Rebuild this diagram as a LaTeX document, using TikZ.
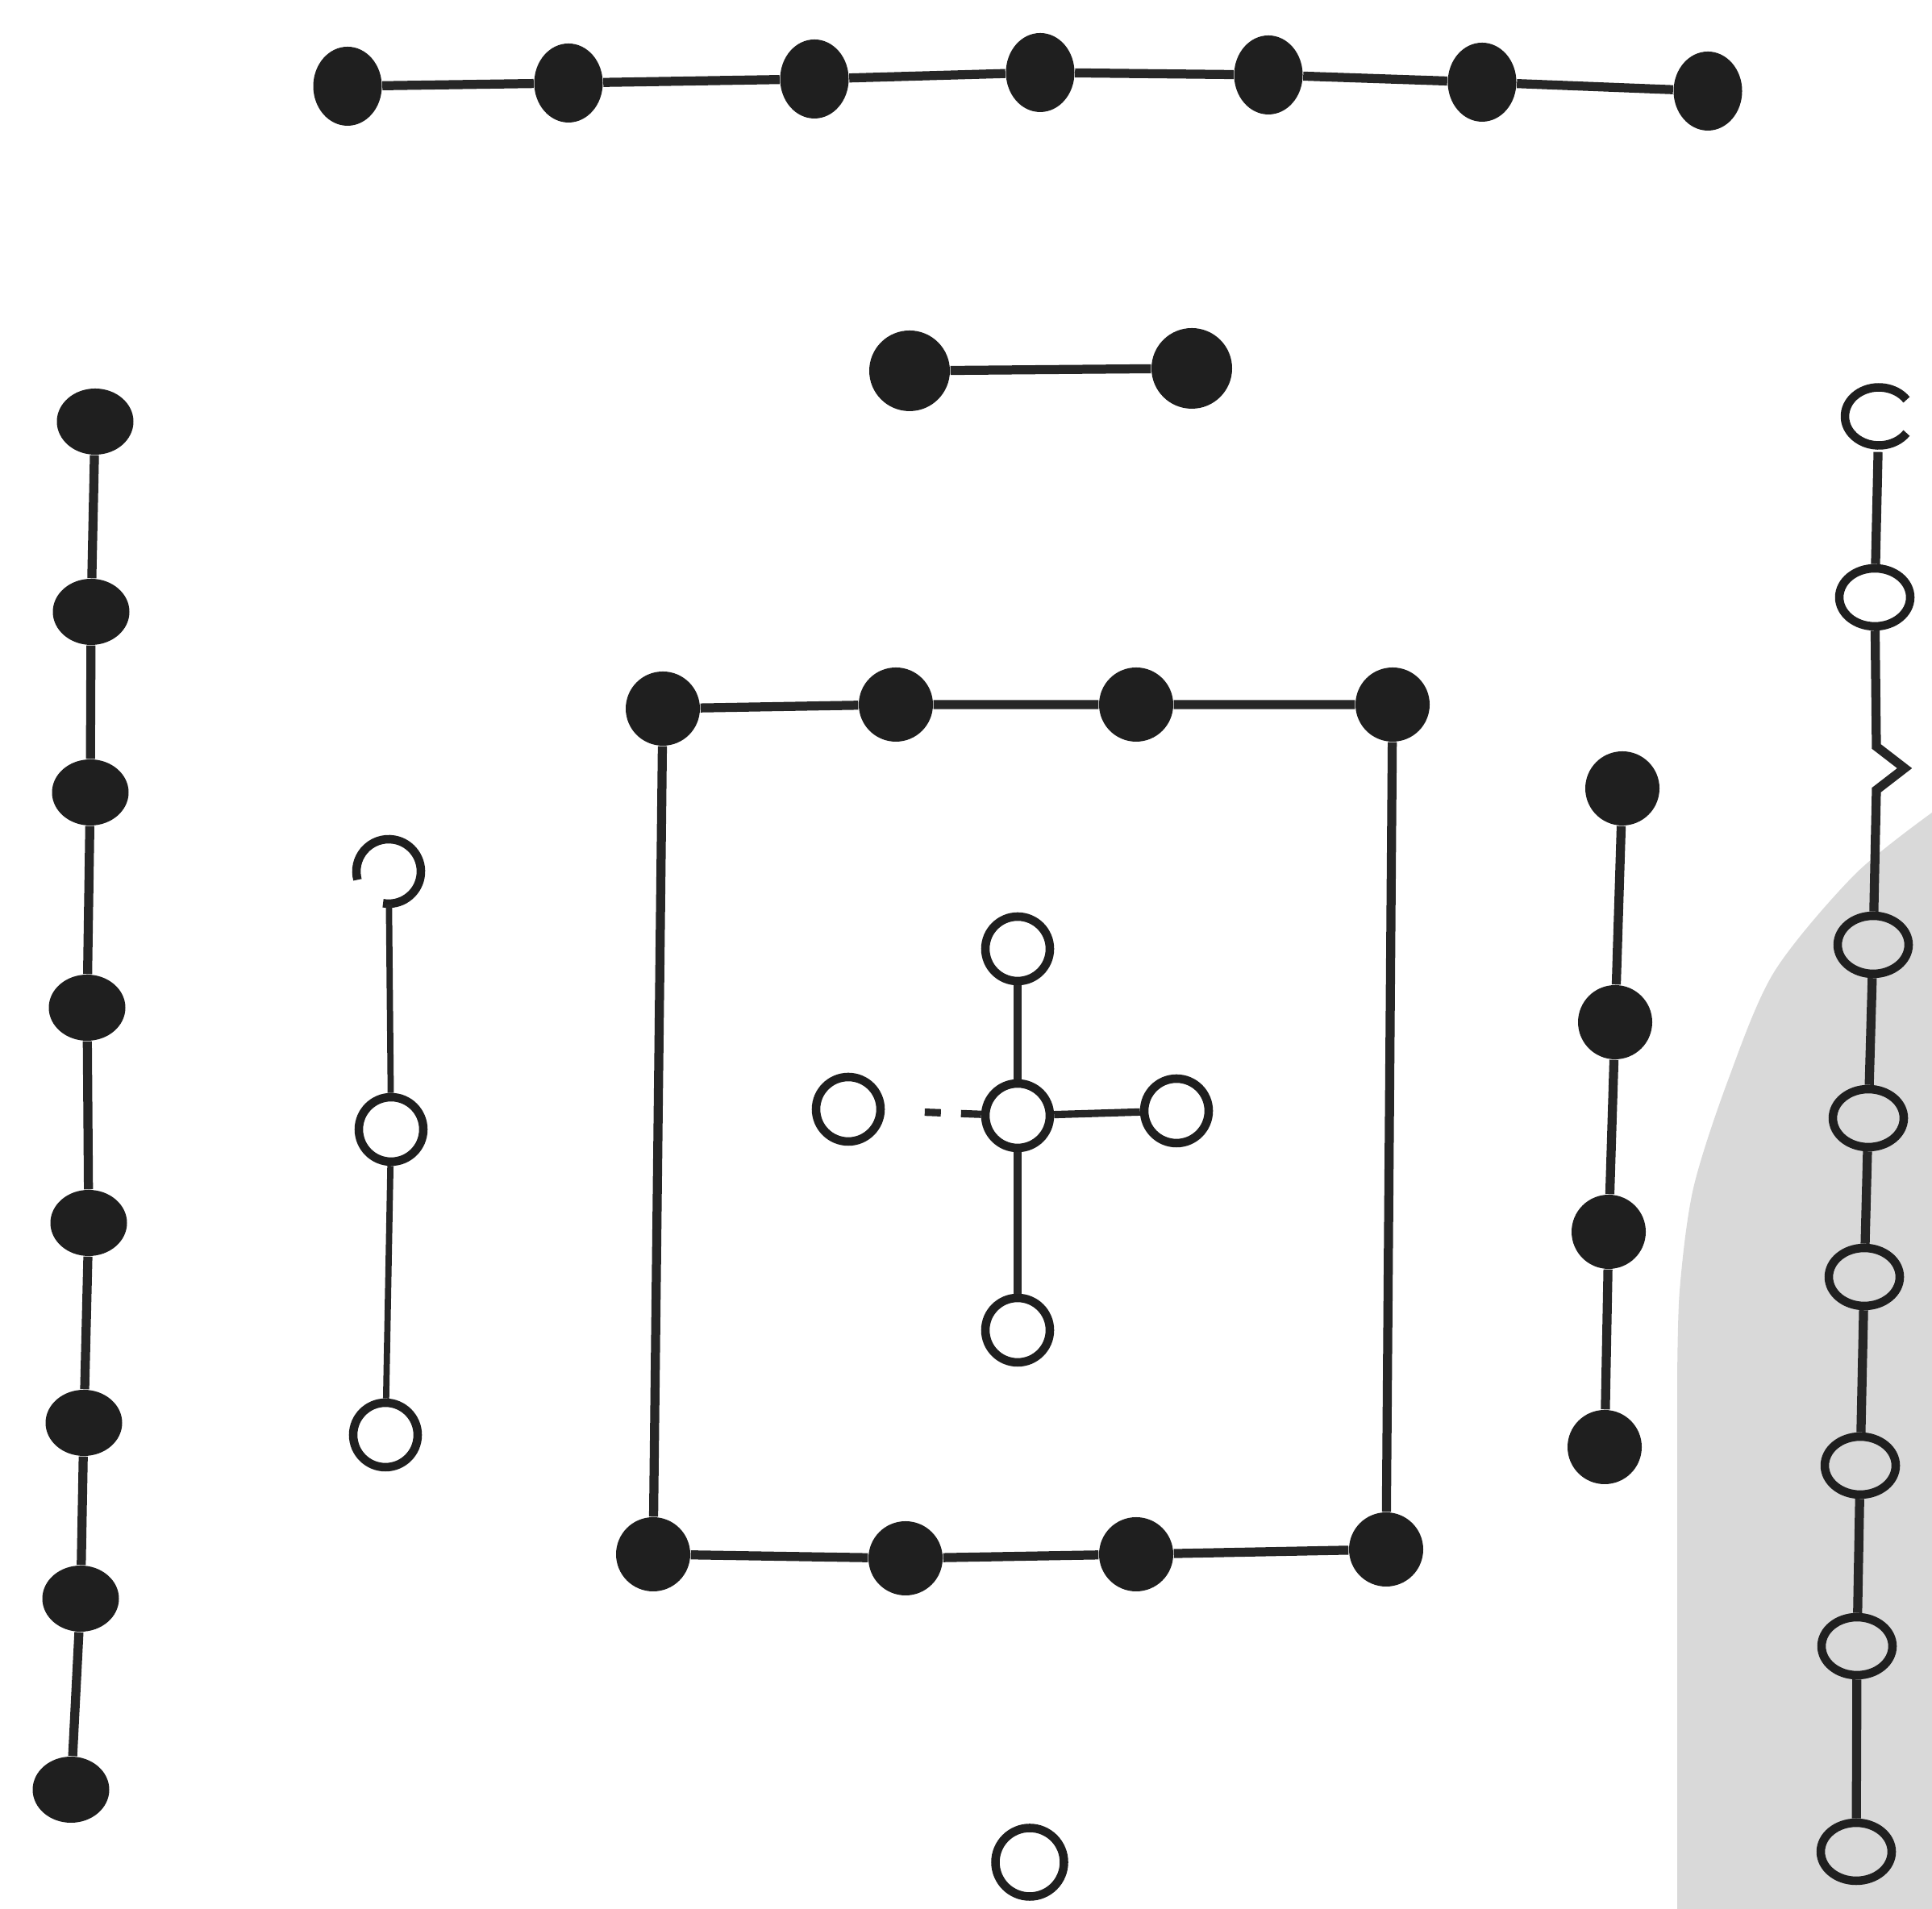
\documentclass[tikz,border=0pt]{standalone}
\usepackage{tikz}
\usetikzlibrary{positioning,shapes.geometric}

\begin{document}
\begin{tikzpicture}[every node/.style={inner sep=0pt}]
\tikzstyle{dark}=[circle, fill=black!88, minimum size=0.92cm]
\tikzstyle{tall}=[ellipse, fill=black!88, minimum width=0.85cm, minimum height=0.98cm]
\tikzstyle{wide}=[ellipse, fill=black!88, minimum width=0.95cm, minimum height=0.82cm]
\tikzstyle{pale}=[circle, draw=black!88, line width=3pt, minimum size=0.8cm]
\tikzstyle{flat}=[ellipse, draw=black!88, line width=3pt, minimum width=0.88cm, minimum height=0.72cm]
\tikzstyle{gap}=[circle, minimum size=0.8cm]
\tikzstyle{cord}=[draw=black!85, line width=3.2pt]
\tikzstyle{ring}=[draw=black!88, line width=3pt]
\useasboundingbox (0,0) rectangle (23.96,23.68);
% grey patch of the page, lower right
\fill[black!15] plot[smooth] coordinates {(23.96,13.60) (23.00,12.83) (22.00,11.62) (21.43,10.28) (21.00,8.94) (20.83,7.67) (20.80,6.5)} -- (20.80,0) -- (23.96,0) -- cycle;
% top row, seven dark
\node[tall] (t1) at (4.31,22.61) {};
\node[tall] (t2) at (7.05,22.65) {};
\node[tall] (t3) at (10.10,22.70) {};
\node[tall] (t4) at (12.90,22.78) {};
\node[tall] (t5) at (15.73,22.75) {};
\node[tall] (t6) at (18.38,22.66) {};
\node[tall] (t7) at (21.18,22.55) {};
\draw[cord] (t1) -- (t2) -- (t3) -- (t4) -- (t5) -- (t6) -- (t7);
% second row, two dark
\node[dark, minimum size=1cm] (s1) at (11.28,19.08) {};
\node[dark, minimum size=1cm] (s2) at (14.78,19.11) {};
\draw[cord] (s1) -- (s2);
% left column, eight dark
\node[wide] (l1) at (1.18,18.45) {};
\node[wide] (l2) at (1.13,16.09) {};
\node[wide] (l3) at (1.12,13.85) {};
\node[wide] (l4) at (1.08,11.18) {};
\node[wide] (l5) at (1.10,8.51) {};
\node[wide] (l6) at (1.04,6.03) {};
\node[wide] (l7) at (1.00,3.85) {};
\node[wide] (l8) at (0.88,1.48) {};
\draw[cord] (l1) -- (l2) -- (l3) -- (l4) -- (l5) -- (l6) -- (l7) -- (l8);
% left inner column, three pale
\node[gap] (m1) at (4.82,12.87) {};
\node[pale] (m2) at (4.85,9.67) {};
\node[pale] (m3) at (4.78,5.88) {};
\draw[ring] ([shift={(-100:0.4)}]m1.center) arc[start angle=-100, end angle=195, radius=0.4];
\draw[cord, line width=2.2pt] (m1) -- (m2) -- (m3);
% centre frame, four dark above and four below
\node[dark] (a1) at (8.22,14.89) {};
\node[dark] (a2) at (11.11,14.94) {};
\node[dark] (a3) at (14.09,14.94) {};
\node[dark] (a4) at (17.27,14.94) {};
\node[dark] (b1) at (8.10,4.40) {};
\node[dark] (b2) at (11.23,4.35) {};
\node[dark] (b3) at (14.09,4.40) {};
\node[dark] (b4) at (17.19,4.46) {};
\draw[cord] (a1) -- (a2) -- (a3) -- (a4);
\draw[cord] (b1) -- (b2) -- (b3) -- (b4);
\draw[cord] (a1) -- (b1);
\draw[cord] (a4) -- (b4);
% centre cross, five pale
\node[pale] (cc) at (12.62,9.84) {};
\node[pale] (cn) at (12.62,11.91) {};
\node[pale] (cs) at (12.62,7.18) {};
\node[pale] (cw) at (10.52,9.92) {};
\node[pale] (ce) at (14.59,9.90) {};
\draw[cord, line width=2.8pt] (cn) -- (cc) -- (cs);
\draw[cord, line width=2.6pt] (cc) -- (ce);
\draw[cord, line width=2.6pt, dash pattern=on 0.25cm off 0.25cm on 0.2cm off 1cm] (cc) -- (cw);
% right inner column, four dark
\node[dark] (g1) at (20.12,13.90) {};
\node[dark] (g2) at (20.03,11.00) {};
\node[dark] (g3) at (19.95,8.40) {};
\node[dark] (g4) at (19.90,5.73) {};
\draw[cord] (g1) -- (g2) -- (g3) -- (g4);
% right column, pale with a kink
\node[gap] (r1) at (23.30,18.48) {};
\node[flat] (r2) at (23.25,16.27) {};
\coordinate (k1) at (23.27,14.42);
\coordinate (k2) at (23.62,14.15);
\coordinate (k3) at (23.27,13.88);
\node[flat] (r4) at (23.23,11.96) {};
\node[flat] (r5) at (23.17,9.81) {};
\node[flat] (r6) at (23.12,7.84) {};
\node[flat] (r7) at (23.07,5.50) {};
\node[flat] (r8) at (23.03,3.26) {};
\node[flat] (r9) at (23.02,0.71) {};
\draw[ring] ([shift={(35:0.42)}]r1.center) arc[start angle=35, end angle=325, x radius=0.42, y radius=0.36];
\draw[cord] (r1) -- (r2) -- (k1) -- (k2) -- (k3) -- (r4) -- (r5) -- (r6) -- (r7) -- (r8) -- (r9);
% single pale at the bottom
\node[pale, minimum size=0.85cm] (bt) at (12.77,0.58) {};
\end{tikzpicture}
\end{document}
